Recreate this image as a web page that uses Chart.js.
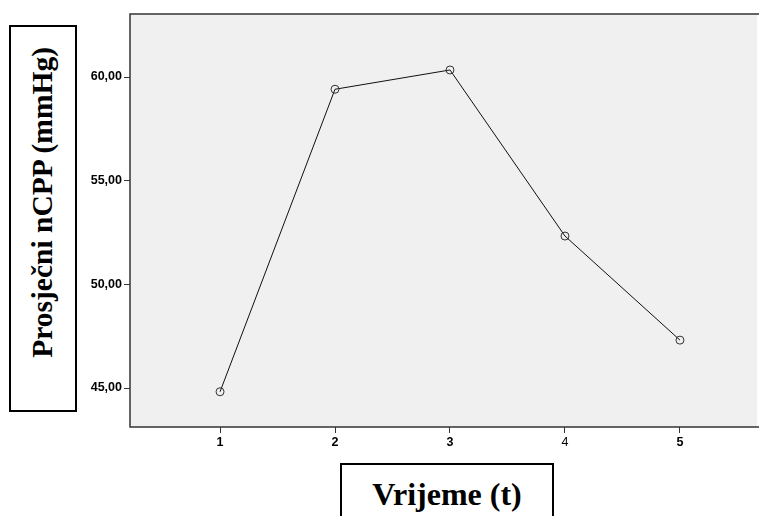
<!DOCTYPE html>
<html>
<head>
<meta charset="utf-8">
<script src="https://cdn.jsdelivr.net/npm/chart.js@4/dist/chart.umd.min.js"></script>
<style>
  html, body { margin: 0; padding: 0; background: #fff; }
  #wrap { position: relative; width: 762px; height: 516px; overflow: hidden; }
  #c { position: absolute; left: 0; top: 0; }
  .box { position: absolute; border: 2px solid #000; box-sizing: border-box; background: #fff;
         font-family: "Liberation Serif", "Times New Roman", serif; font-weight: bold; color: #000;
         display: flex; align-items: center; justify-content: center; }
  #ytitle { left: 9px; top: 25px; width: 68px; height: 387px; font-size: 29.5px; }
  #ytitle span { writing-mode: vertical-rl; transform: rotate(180deg); margin-bottom: 32px; margin-right: 2px; }
  #xtitle { left: 340px; top: 463px; width: 214px; height: 66px; font-size: 32px; }
  #xtitle span { margin-bottom: 4px; }
</style>
</head>
<body>
<div id="wrap">
  <canvas id="c" width="762" height="516"></canvas>
  <div class="box" id="ytitle"><span>Prosječni nCPP (mmHg)</span></div>
  <div class="box" id="xtitle"><span>Vrijeme (t)</span></div>
</div>
<script>
// --- DATA ---
const timePoints = [1, 2, 3, 4, 5];
const meanNcpp = [44.82, 59.41, 60.34, 52.33, 47.31];
const yTicks = [45, 50, 55, 60];
const xTicks = [1, 2, 3, 4, 5];

const PLOT_BG = '#f0f0f0';
const AXIS_COLOR = '#333333';

// plot background + frame (left, top, bottom only - right side is cut off)
const plotFrame = {
    id: 'plotFrame',
    beforeDraw(chart) {
        const { ctx, chartArea: a } = chart;
        ctx.save();
        ctx.fillStyle = PLOT_BG;
        ctx.fillRect(a.left, a.top, a.right - a.left, a.bottom - a.top);
        ctx.strokeStyle = AXIS_COLOR;
        ctx.lineWidth = 1.5;
        ctx.beginPath();
        ctx.moveTo(a.right + 2, a.top);
        ctx.lineTo(a.left, a.top);
        ctx.lineTo(a.left, a.bottom);
        ctx.lineTo(a.right + 2, a.bottom);
        ctx.stroke();
        ctx.restore();
    }
};

const ctx = document.getElementById('c').getContext('2d');
new Chart(ctx, {
    type: 'line',
    data: {
        datasets: [{
            data: timePoints.map((t, i) => ({ x: t, y: meanNcpp[i] })),
            borderColor: '#111', borderWidth: 1, tension: 0,
            pointRadius: 4, pointHoverRadius: 4,
            pointBackgroundColor: 'rgba(0,0,0,0)', pointBorderColor: '#333', pointBorderWidth: 1
        }]
    },
    options: {
        responsive: false, animation: false,
        layout: { padding: { top: 14, left: 0, right: 0, bottom: 0 } },
        plugins: { legend: { display: false }, tooltip: { enabled: false } },
        scales: {
            x: {
                type: 'linear', min: 0.217, max: 5.67,
                afterFit: s => { s.height = 89; },
                afterBuildTicks: s => { s.ticks = xTicks.map(v => ({ value: v })); },
                border: { display: false },
                grid: { drawOnChartArea: false, drawTicks: true, tickLength: 6, color: AXIS_COLOR, tickWidth: 1 },
                ticks: {
                    padding: 2, color: '#000',
                    font: c => ({ family: 'Liberation Sans, Arial, sans-serif', size: 12.5, weight: c.tick && c.tick.value === 4 ? 'normal' : 'bold' })
                }
            },
            y: {
                type: 'linear', min: 43.12, max: 63.04,
                afterFit: s => { s.width = 130; },
                afterBuildTicks: s => { s.ticks = yTicks.map(v => ({ value: v })); },
                border: { display: false },
                grid: { drawOnChartArea: false, drawTicks: true, tickLength: 6, color: AXIS_COLOR, tickWidth: 1 },
                ticks: {
                    padding: 2, color: '#000',
                    font: { family: 'Liberation Sans, Arial, sans-serif', size: 12.5, weight: 'bold' },
                    callback: v => v.toFixed(2).replace('.', ',')
                }
            }
        }
    },
    plugins: [plotFrame]
});
</script>
</body>
</html>
